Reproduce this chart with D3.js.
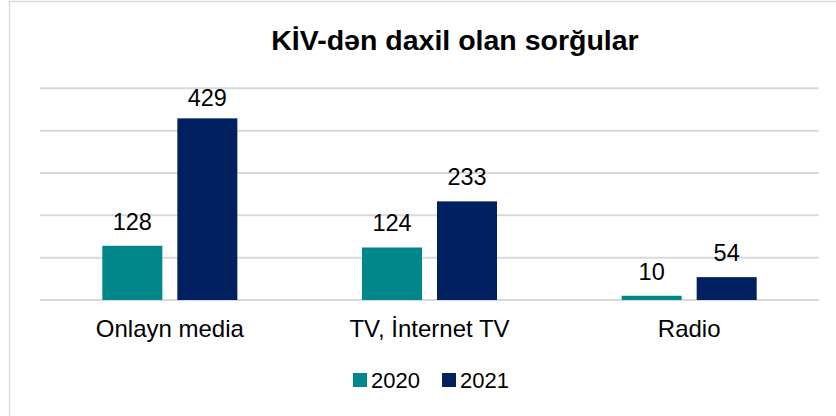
<!DOCTYPE html>
<html>
<head>
  <meta charset="utf-8">
  <script src="https://d3js.org/d3.v7.min.js"></script>
  <style>
    body { margin: 0; background: #fff; }
    text { font-family: "Liberation Sans", Arial, sans-serif; fill: #000; }
  </style>
</head>
<body>
  <div id="chart"></div>
  <script>
    // chart data
    var categories = ['Onlayn media', 'TV, İnternet TV', 'Radio'];
    var seriesNames = ['2020', '2021'];
    var values2020 = [128, 124, 10];
    var values2021 = [429, 233, 54];
    var gridTicks = [0, 100, 200, 300, 400, 500];
    var colors = ['#00878A', '#00205F'];

    var W = 836, H = 416;
    var plot = {left: 40, right: 819, top: 88.3, bottom: 300};

    var svg = d3.select('#chart').append('svg')
        .attr('width', W)
        .attr('height', H);

    // outer chart border
    svg.append('rect')
        .attr('x', 9.5).attr('y', 1.5)
        .attr('width', 900).attr('height', 500)
        .attr('fill', 'none')
        .attr('stroke', '#d9d9d9')
        .attr('stroke-width', 1.5);

    var x0 = d3.scaleBand()
        .domain(categories)
        .range([plot.left, plot.right])
        .paddingInner(0.48)
        .paddingOuter(0.24);

    var x1 = d3.scaleBand()
        .domain(seriesNames)
        .range([0, x0.bandwidth()])
        .paddingInner(0.2);

    var y = d3.scaleLinear()
        .domain([0, 500])
        .range([plot.bottom, plot.top]);

    // gridlines
    svg.append('g').selectAll('line')
        .data(gridTicks)
        .enter()
        .append('line')
          .attr('x1', plot.left)
          .attr('x2', plot.right)
          .attr('y1', function(d) { return y(d); })
          .attr('y2', function(d) { return y(d); })
          .attr('stroke', '#d9d9d9')
          .attr('stroke-width', 2);

    // title
    svg.append('text')
        .attr('x', 455)
        .attr('y', 50)
        .attr('text-anchor', 'middle')
        .style('font-weight', 'bold')
        .style('font-size', '28.5px')
        .text('KİV-dən daxil olan sorğular');

    var rows = categories.map(function(c, i) {
      return {cat: c, vals: [values2020[i], values2021[i]]};
    });

    var groups = svg.append('g').selectAll('g')
        .data(rows)
        .enter()
        .append('g')
          .attr('transform', function(d) { return 'translate(' + x0(d.cat) + ',0)'; });

    groups.selectAll('rect')
        .data(function(d) { return d.vals.map(function(v, j) { return {name: seriesNames[j], v: v, j: j}; }); })
        .enter()
        .append('rect')
          .attr('x', function(d) { return x1(d.name); })
          .attr('y', function(d) { return y(d.v); })
          .attr('width', x1.bandwidth())
          .attr('height', function(d) { return y(0) - y(d.v); })
          .attr('fill', function(d) { return colors[d.j]; });

    // value labels (kept inside the plot at the top)
    groups.selectAll('text')
        .data(function(d) { return d.vals.map(function(v, j) { return {name: seriesNames[j], v: v}; }); })
        .enter()
        .append('text')
          .attr('x', function(d) { return x1(d.name) + x1.bandwidth() / 2; })
          .attr('y', function(d) { return Math.max(y(d.v) - 16, 106); })
          .attr('text-anchor', 'middle')
          .style('font-size', '23.5px')
          .text(function(d) { return d.v; });

    // category labels
    svg.append('g').selectAll('text')
        .data(categories)
        .enter()
        .append('text')
          .attr('x', function(d) { return x0(d) + x0.bandwidth() / 2; })
          .attr('y', 337)
          .attr('text-anchor', 'middle')
          .style('font-size', '24px')
          .text(function(d) { return d; });

    // legend
    var legendX = [353, 442];
    var legend = svg.append('g').selectAll('g')
        .data(seriesNames)
        .enter()
        .append('g')
          .attr('transform', function(d, i) { return 'translate(' + legendX[i] + ',373)'; });

    legend.append('rect')
        .attr('width', 14)
        .attr('height', 14)
        .attr('fill', function(d, i) { return colors[i]; });

    legend.append('text')
        .attr('x', 18)
        .attr('y', 15)
        .style('font-size', '22px')
        .text(function(d) { return d; });
  </script>
</body>
</html>
